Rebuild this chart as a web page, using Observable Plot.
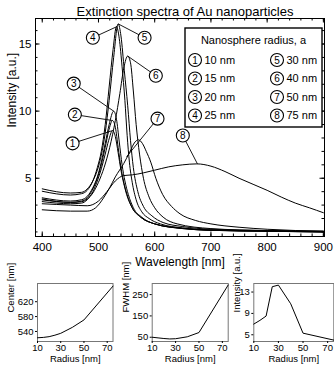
<!DOCTYPE html>
<html><head><meta charset="utf-8">
<script src="https://cdn.jsdelivr.net/npm/d3@7"></script>
<script src="https://cdn.jsdelivr.net/npm/@observablehq/plot@0.6"></script>
<style>
body{margin:0;background:#fff;}
#root{position:relative;width:334px;height:365px;overflow:hidden;font-family:"Liberation Sans",Arial,sans-serif;}
#root svg{position:absolute;overflow:visible;}
</style></head><body><div id="root"></div>
<script>
// ---------- DATA ----------
const chartTitle = "Extinction spectra of Au nanoparticles";
const legendTitle = "Nanosphere radius, a";
const curveIds = [1, 2, 3, 4, 5, 6, 7, 8];
const radiusLabels = ["10 nm", "15 nm", "20 nm", "25 nm", "30 nm", "40 nm", "50 nm", "75 nm"];

// spectra: [wavelength nm, intensity a.u.]
const spec1 = [[400,3.26],[450,3.1],[470,3.15],[480,3.4],[490,4.0],[498,4.8],[505,5.7],[512,6.8],[518,7.8],[525,8.55],[530,8.1],[535,6.9],[540,5.6],[545,4.6],[550,3.8],[560,2.8],[575,2.1],[600,1.6],[650,1.25],[700,1.12],[800,1.05],[900,1.0]];
const spec2 = [[400,3.39],[450,3.2],[470,3.3],[480,3.55],[490,4.2],[498,5.0],[505,6.0],[512,7.3],[518,8.5],[525,9.3],[530,8.8],[535,7.3],[540,5.8],[545,4.7],[550,3.9],[560,2.8],[575,2.1],[600,1.6],[650,1.25],[700,1.12],[800,1.05],[900,1.0]];
const spec3 = [[400,3.54],[450,3.3],[470,3.4],[480,3.65],[490,4.3],[498,5.1],[505,6.2],[512,7.6],[519,9.0],[527,10.0],[532,9.4],[537,7.7],[542,6.0],[547,4.8],[553,3.8],[562,2.8],[577,2.1],[600,1.6],[650,1.27],[700,1.13],[800,1.06],[900,1.0]];
const spec4 = [[400,4.03],[450,3.75],[470,3.85],[480,4.1],[490,4.8],[498,5.8],[505,7.0],[512,9.0],[519,11.8],[526,14.6],[532,16.3],[537,15.4],[542,13.3],[547,10.8],[551,8.2],[555,6.2],[560,4.7],[567,3.4],[577,2.5],[590,2.0],[610,1.6],[650,1.3],[700,1.15],[800,1.07],[900,1.02]];
const spec5 = [[400,4.21],[450,3.9],[470,3.95],[480,4.2],[490,4.8],[498,5.6],[505,6.7],[512,8.4],[519,10.8],[527,14.0],[535,16.5],[540,15.6],[546,13.0],[552,10.4],[557,7.8],[562,5.8],[570,4.0],[580,2.9],[595,2.2],[615,1.7],[650,1.4],[700,1.2],[800,1.1],[900,1.05]];
const spec6 = [[400,3.45],[450,3.2],[470,3.25],[480,3.45],[490,3.9],[500,4.7],[510,5.8],[520,7.3],[530,9.3],[538,11.3],[545,13.2],[552,14.1],[557,13.6],[562,11.5],[567,9.0],[573,6.8],[580,5.0],[590,3.6],[600,2.8],[615,2.1],[640,1.6],[700,1.25],[800,1.1],[900,1.05]];
const spec7 = [[400,2.65],[450,2.55],[480,2.55],[495,2.8],[510,3.6],[520,4.3],[530,5.1],[545,6.1],[555,6.9],[565,7.7],[571,7.86],[578,7.6],[585,7.0],[593,6.2],[602,5.0],[614,3.8],[630,2.9],[645,2.35],[673,1.85],[700,1.6],[750,1.35],[800,1.2],[900,1.05]];
const spec8 = [[400,3.1],[450,3.0],[480,2.95],[500,3.3],[515,4.0],[530,4.8],[545,5.2],[560,5.25],[580,5.4],[600,5.6],[625,5.85],[650,6.0],[675,6.07],[700,5.9],[725,5.5],[750,5.0],[775,4.55],[800,4.1],[825,3.6],[850,3.15],[875,2.8],[900,2.43]];
const spectra = [spec1, spec2, spec3, spec4, spec5, spec6, spec7, spec8];

// numbered callouts: circle position and the curve point it points to
const calloutWl  = [454, 458, 456, 490, 582, 602, 605, 650];
const calloutInt = [7.6, 9.74, 12.05, 15.47, 15.47, 12.64, 9.44, 8.18];
const targetWl   = [525, 525, 527, 533, 535, 552, 550, 676];
const targetInt  = [8.55, 9.3, 10.0, 16.3, 16.5, 14.1, 6.6, 6.07];

const xTicks = [400, 500, 600, 700, 800, 900];
const yTicks = [5, 10, 15];

// peak parameters vs radius
const radius = [10, 15, 20, 25, 30, 40, 50, 75];
const center = [523, 524, 526, 530, 535, 551, 571, 662];
const fwhm = [50, 47, 44, 42, 43, 52, 72, 295];
const peakInt = [7.0, 7.7, 8.5, 14.0, 14.3, 10.8, 5.3, 4.0];
const radiusTicks = [10, 30, 50, 70];
const centerTicks = [540, 580, 620];
const fwhmTicks = [50, 150, 250];
const intTicks = [5, 9, 13];

// ---------- BUILD ----------
const FONT = "Liberation Sans, Arial, Helvetica, sans-serif";
const root = document.getElementById("root");

const rows = [];
spectra.forEach((s, i) => s.forEach(([wl, v]) => rows.push({id: curveIds[i], wl, v})));
const callouts = curveIds.map((id, i) => ({id, x1: calloutWl[i], y1: calloutInt[i], x2: targetWl[i], y2: targetInt[i]}));

const mainW = 334, mainH = 272, mL = 35, mR = 10, mT = 18, mB = 36;
const fW = mainW - mL - mR, fH = mainH - mT - mB;
const minorX = d3.range(400, 901, 20);
const minorY = d3.range(1, 17, 1);

const main = Plot.plot({
  width: mainW, height: mainH,
  marginLeft: mL, marginRight: mR, marginTop: mT, marginBottom: mB,
  style: {fontFamily: FONT, fontSize: "11.5px", background: "transparent", color: "black"},
  x: {domain: [388, 902]},
  y: {domain: [0.66, 16.9]},
  marks: [
    Plot.line(rows, {x: "wl", y: "v", z: "id", curve: "monotone-x", stroke: "black", strokeWidth: 1}),
    Plot.frame({stroke: "black", strokeWidth: 1}),
    // inward ticks on all four sides
    Plot.tickX(minorX, {x: d => d, insetTop: fH - 2.5, stroke: "black"}),
    Plot.tickX(xTicks, {x: d => d, insetTop: fH - 4.5, stroke: "black"}),
    Plot.tickX(minorX, {x: d => d, insetBottom: fH - 2.5, stroke: "black"}),
    Plot.tickX(xTicks, {x: d => d, insetBottom: fH - 4.5, stroke: "black"}),
    Plot.tickY(minorY, {y: d => d, insetRight: fW - 2.5, stroke: "black"}),
    Plot.tickY(yTicks, {y: d => d, insetRight: fW - 4.5, stroke: "black"}),
    Plot.tickY(minorY, {y: d => d, insetLeft: fW - 2.5, stroke: "black"}),
    Plot.tickY(yTicks, {y: d => d, insetLeft: fW - 4.5, stroke: "black"}),
    Plot.axisX({ticks: xTicks, tickSize: 0, tickPadding: 6, label: null, fontSize: 11.5}),
    Plot.axisY({ticks: yTicks, tickSize: 0, tickPadding: 4, label: null, fontSize: 11.5}),
    Plot.text(["Wavelength [nm]"], {frameAnchor: "bottom", dy: 29, fontSize: 12, fill: "black"}),
    Plot.text(["Intensity [a.u.]"], {frameAnchor: "left", rotate: -90, dx: -23, fontSize: 12, fill: "black"}),
    Plot.text([chartTitle], {frameAnchor: "top", dy: -11.5, dx: 5, fontSize: 13, fill: "black"}),
    // callouts
    Plot.link(callouts, {x1: "x1", y1: "y1", x2: "x2", y2: "y2", stroke: "black", strokeWidth: 0.9}),
    Plot.dot(callouts, {x: "x1", y: "y1", r: 6.5, fill: "white", stroke: "black", strokeWidth: 1.1}),
    Plot.text(callouts, {x: "x1", y: "y1", text: "id", fontSize: 10, fill: "black"})
  ]
});
main.style.left = "0px"; main.style.top = "0px";
root.appendChild(main);

// legend box (inside main chart)
const lg = d3.select(main).append("g").attr("font-family", FONT).attr("font-size", 11).attr("fill", "black");
lg.append("rect").attr("x", 185).attr("y", 28).attr("width", 137).attr("height", 99)
  .attr("fill", "white").attr("stroke", "black").attr("stroke-width", 1.4);
lg.append("text").attr("x", 253.5).attr("y", 40).attr("text-anchor", "middle").attr("dy", "0.35em").text(legendTitle);
radiusLabels.forEach((lab, i) => {
  const col = i < 4 ? 0 : 1, row = i % 4;
  const cx = col ? 277 : 195, cy = 60 + row * 18.5;
  lg.append("circle").attr("cx", cx).attr("cy", cy).attr("r", 6.5).attr("fill", "white").attr("stroke", "black").attr("stroke-width", 1.1);
  lg.append("text").attr("x", cx).attr("y", cy).attr("dy", "0.35em").attr("text-anchor", "middle").attr("font-size", 10).text(curveIds[i]);
  lg.append("text").attr("x", cx + 9.5).attr("y", cy).attr("dy", "0.35em").attr("text-anchor", "start").text(lab);
});

// small plots
function small(values, yDomain, yT, ylabel, left, mLeft, frameW, width, labelDx) {
  const pts = radius.map((r, i) => ({r, v: values[i]}));
  const p = Plot.plot({
    width, height: 95, marginLeft: mLeft, marginRight: width - mLeft - frameW, marginTop: 13, marginBottom: 24,
    style: {fontFamily: FONT, fontSize: "9.5px", background: "transparent", color: "black"},
    x: {domain: [10, 75]},
    y: {domain: yDomain},
    marks: [
      Plot.frame({stroke: "#777", strokeWidth: 1}),
      Plot.line(pts, {x: "r", y: "v", stroke: "black", strokeWidth: 1}),
      Plot.axisX({ticks: radiusTicks, tickSize: 2, tickPadding: 1, label: null, fontSize: 9.5}),
      Plot.axisY({ticks: yT, tickSize: 2, tickPadding: 2, label: null, fontSize: 9.5}),
      Plot.text(["Radius [nm]"], {frameAnchor: "bottom", dy: 20.5, fontSize: 9.5, fill: "black"}),
      Plot.text([ylabel], {frameAnchor: "left", rotate: -90, dx: labelDx, fontSize: 9.5, fill: "black"})
    ]
  });
  p.style.left = left + "px"; p.style.top = "270px";
  root.appendChild(p);
}
small(center, [513, 669], centerTicks, "Center [nm]", 0, 37, 75.5, 116, -27);
small(fwhm, [30, 302], fwhmTicks, "FWHM [nm]", 116, 35.7, 76, 116, -26.7);
small(peakInt, [3.74, 14.6], intTicks, "Intensity [a.u.]", 232, 21.3, 80, 102, -16.6);
</script></body></html>
